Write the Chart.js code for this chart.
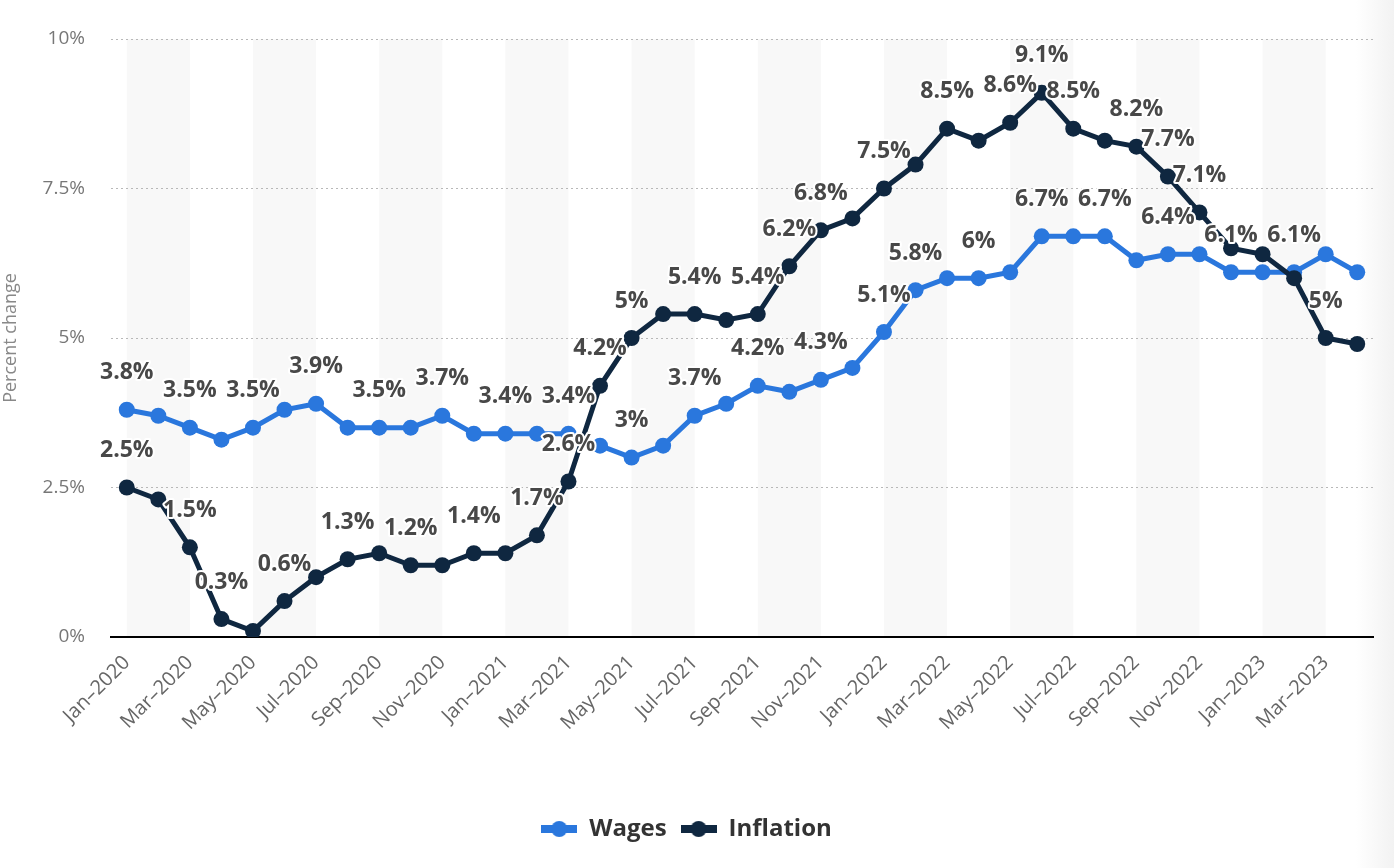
<!DOCTYPE html>
<html>
<head>
<meta charset="utf-8">
<script src="https://cdn.jsdelivr.net/npm/chart.js@4.4.1/dist/chart.umd.min.js"></script>
<style>
  html, body { margin: 0; padding: 0; }
  body { width: 1394px; height: 868px; background: linear-gradient(to right, #fff 1356px, #f2f2f2 1394px); }
  #wrap { position: relative; width: 1394px; height: 868px; }
</style>
</head>
<body>
<div id="wrap"><canvas id="myChart"></canvas></div>
<script>
const months = ['Jan', 'Feb', 'Mar', 'Apr', 'May', 'Jun', 'Jul', 'Aug', 'Sep', 'Oct', 'Nov', 'Dec'];
const labels = [];
for (let y = 2020; y <= 2023; y++) {
    for (let m = 0; m < 12; m++) {
        if (y === 2023 && m > 3) break;
        labels.push(months[m] + '–' + y);
    }
}

// percent change, Jan 2020 - Apr 2023
const wages = [3.8, 3.7, 3.5, 3.3, 3.5, 3.8, 3.9, 3.5, 3.5, 3.5, 3.7, 3.4,
               3.4, 3.4, 3.4, 3.2, 3.0, 3.2, 3.7, 3.9, 4.2, 4.1, 4.3, 4.5,
               5.1, 5.8, 6.0, 6.0, 6.1, 6.7, 6.7, 6.7, 6.3, 6.4, 6.4, 6.1,
               6.1, 6.1, 6.4, 6.1];
const inflation = [2.5, 2.3, 1.5, 0.3, 0.1, 0.6, 1.0, 1.3, 1.4, 1.2, 1.2, 1.4,
                   1.4, 1.7, 2.6, 4.2, 5.0, 5.4, 5.4, 5.3, 5.4, 6.2, 6.8, 7.0,
                   7.5, 7.9, 8.5, 8.3, 8.6, 9.1, 8.5, 8.3, 8.2, 7.7, 7.1, 6.5,
                   6.4, 6.0, 5.0, 4.9];

// which points carry a value label
const wagesLabelIdx = [0, 2, 4, 6, 8, 10, 12, 14, 16, 18, 20, 22, 24, 25, 27, 29, 31, 33, 35, 37];
const inflationLabelIdx = [0, 2, 3, 5, 7, 9, 11, 13, 14, 15, 16, 18, 20, 21, 22, 24, 26, 28, 29, 30, 32, 33, 34, 38];

const wagesColor = '#2a77dd';
const inflationColor = '#0f2740';

function legendMarker(color) {
    const c = document.createElement('canvas');
    c.width = 36; c.height = 18;
    const g = c.getContext('2d');
    g.fillStyle = color;
    g.fillRect(0, 5, 36, 8);
    g.beginPath();
    g.arc(18, 9, 8, 0, Math.PI * 2);
    g.fill();
    return c;
}

// alternating light column bands behind the plot
const bandsPlugin = {
    id: 'bands',
    beforeDraw(chart) {
        const { ctx, chartArea, scales } = chart;
        ctx.save();
        ctx.fillStyle = '#f8f8f8';
        for (let i = 0; i + 2 < labels.length; i += 4) {
            const x0 = scales.x.getPixelForValue(i);
            const x1 = scales.x.getPixelForValue(i + 2);
            ctx.fillRect(x0, chartArea.top, x1 - x0, chartArea.bottom - chartArea.top);
        }
        ctx.restore();
    }
};

// value labels with white halo
const pointLabelsPlugin = {
    id: 'pointLabels',
    afterDatasetsDraw(chart) {
        const ctx = chart.ctx;
        ctx.save();
        ctx.font = 'bold 23px "Open Sans"';
        ctx.textAlign = 'center';
        ctx.textBaseline = 'middle';
        ctx.lineJoin = 'round';
        chart.data.datasets.forEach((ds, di) => {
            const meta = chart.getDatasetMeta(di);
            ds.labelIdx.forEach(i => {
                const p = meta.data[i];
                const t = ds.data[i] + '%';
                ctx.lineWidth = 4;
                ctx.strokeStyle = '#ffffff';
                ctx.strokeText(t, p.x, p.y - 37);
                ctx.fillStyle = '#484848';
                ctx.fillText(t, p.x, p.y - 37);
            });
        });
        ctx.restore();
    }
};

const ctx = document.getElementById('myChart').getContext('2d');
new Chart(ctx, {
    type: 'line',
    data: {
        labels: labels,
        datasets: [{
            label: 'Wages',
            data: wages,
            labelIdx: wagesLabelIdx,
            borderColor: wagesColor,
            backgroundColor: wagesColor,
            borderWidth: 5,
            pointRadius: 8,
            pointHoverRadius: 8,
            pointBorderWidth: 0,
            tension: 0,
            order: 1
        },
        {
            label: 'Inflation',
            data: inflation,
            labelIdx: inflationLabelIdx,
            borderColor: inflationColor,
            backgroundColor: inflationColor,
            borderWidth: 5,
            pointRadius: 8,
            pointHoverRadius: 8,
            pointBorderWidth: 0,
            tension: 0,
            order: 0
        }]
    },
    plugins: [bandsPlugin, pointLabelsPlugin],
    options: {
        responsive: true,
        maintainAspectRatio: false,
        animation: false,
        layout: {
            padding: { top: 39, right: 21, bottom: 17, left: 0 }
        },
        scales: {
            x: {
                offset: true,
                grid: { display: false },
                border: { color: '#000000', width: 2 },
                ticks: {
                    autoSkip: false,
                    minRotation: 45,
                    maxRotation: 45,
                    color: '#666666',
                    padding: 6,
                    font: { family: '"Open Sans"', size: 20 },
                    callback: (v, i) => (i % 2 === 0 ? labels[i] : '')
                },
                afterFit: s => { s.height = 166; }
            },
            y: {
                min: 0,
                max: 10,
                border: { display: false, dash: [2, 3] },
                grid: {
                    color: '#b8b8b8',
                    lineWidth: 1,
                    tickLength: 0,
                    drawTicks: false
                },
                ticks: {
                    stepSize: 2.5,
                    color: '#777777',
                    padding: 26,
                    font: { family: '"Open Sans"', size: 19 },
                    callback: v => v + '%'
                },
                title: {
                    display: true,
                    text: 'Percent change',
                    color: '#888888',
                    font: { family: '"Open Sans"', size: 18 },
                    padding: { top: 0, bottom: 0 }
                },
                afterFit: s => { s.width = 111; }
            }
        },
        plugins: {
            tooltip: { enabled: false },
            legend: {
                position: 'bottom',
                labels: {
                    usePointStyle: true,
                    pointStyleWidth: 36,
                    padding: 14,
                    color: '#333333',
                    font: { family: '"Open Sans"', size: 24, weight: 'bold' },
                    generateLabels: chart => chart.data.datasets.map((ds, i) => ({
                        text: ds.label,
                        fillStyle: ds.borderColor,
                        strokeStyle: ds.borderColor,
                        lineWidth: 0,
                        pointStyle: legendMarker(ds.borderColor),
                        hidden: false,
                        datasetIndex: i,
                        fontColor: '#333333'
                    }))
                }
            }
        }
    }
});
</script>
</body>
</html>
